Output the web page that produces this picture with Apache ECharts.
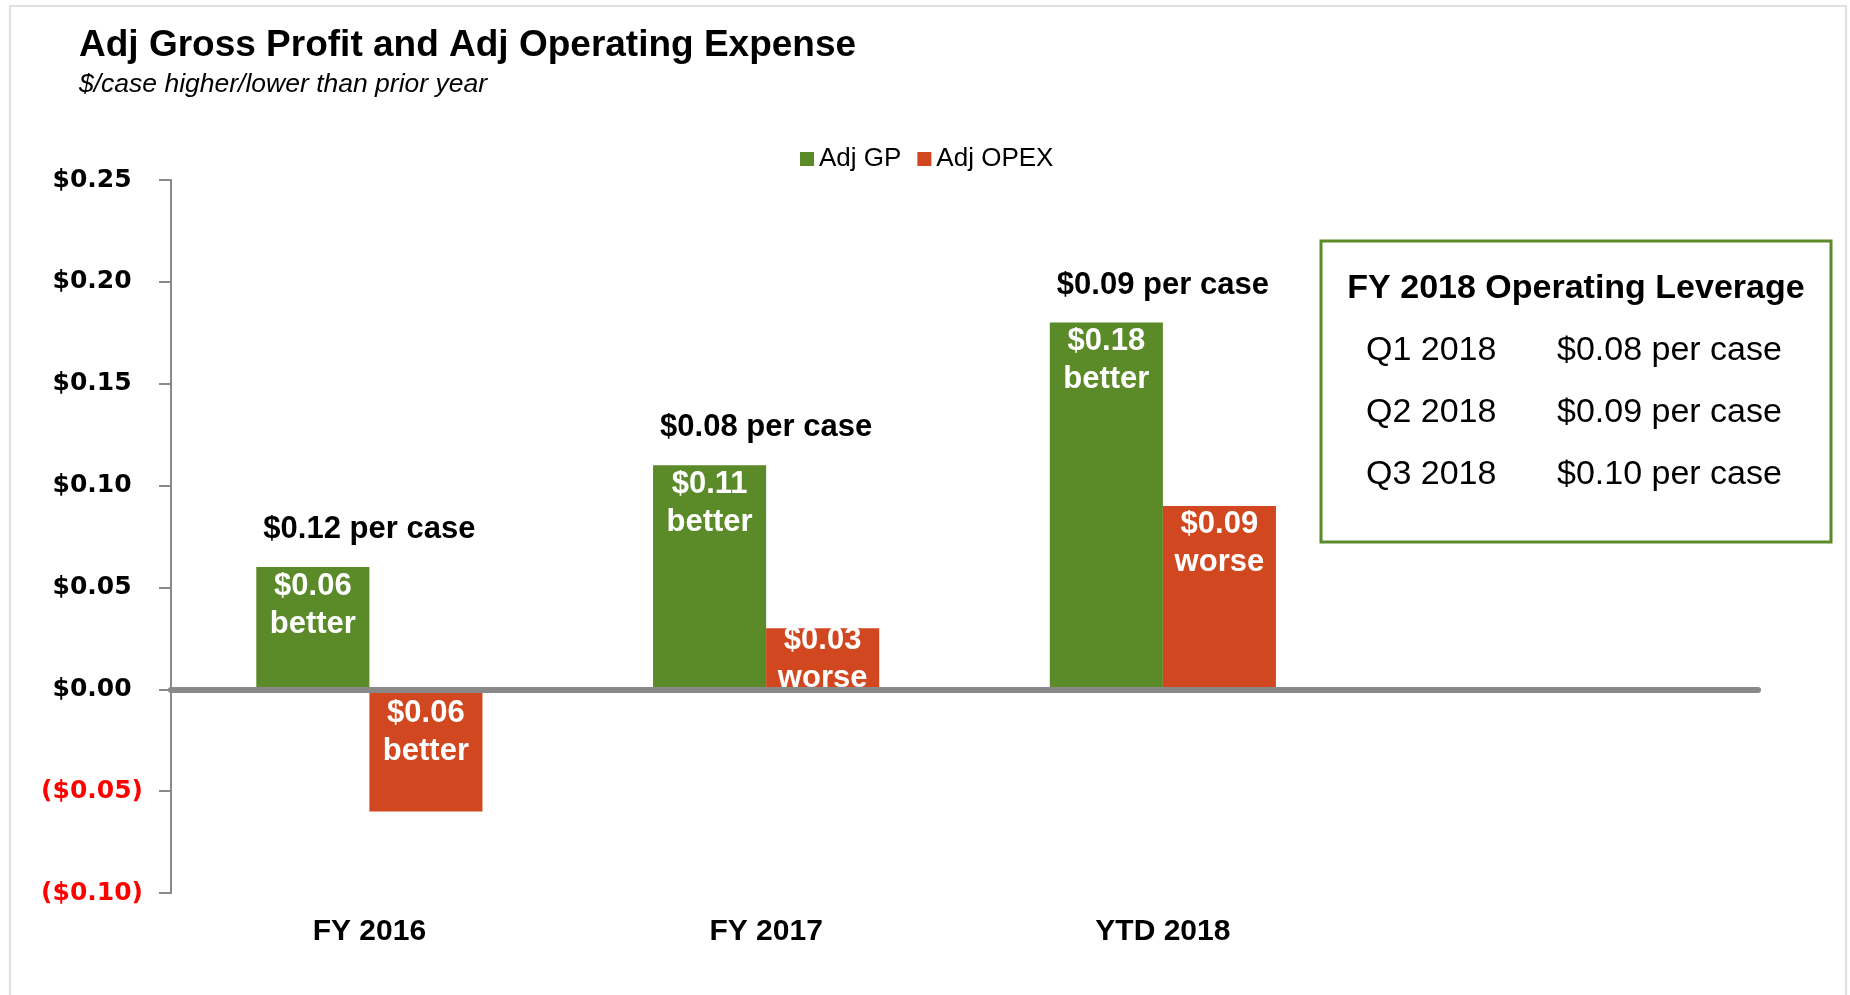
<!DOCTYPE html>
<html>
<head>
<meta charset="utf-8">
<script src="https://cdn.jsdelivr.net/npm/echarts@6/dist/echarts.min.js"></script>
<style>
	html, body { margin: 0; padding: 0; background: #fff; }
	#main { width: 1850px; height: 995px; }
</style>
</head>
<body>
<div id="main"></div>
<script>
// 数据
var categories = ['FY 2016', 'FY 2017', 'YTD 2018', ''];
var gpValues = [0.06, 0.11, 0.18];
var opexValues = [-0.06, 0.03, 0.09];
var gpWords = ['better', 'better', 'better'];
var opexWords = ['better', 'worse', 'worse'];
var perCaseValues = [0.12, 0.08, 0.09];
var leverageQuarters = ['Q1 2018', 'Q2 2018', 'Q3 2018'];
var leverageValues = [0.08, 0.09, 0.10];

var green = '#5B8A29';
var red = '#D14820';
var gray = '#898989';

function money(v) {
	var c = Math.round(v * 100);
	var s = '$' + (Math.abs(c) / 100).toFixed(2);
	return c < 0 ? '(' + s + ')' : s;
}

// 每组上方的标签放在较高柱子的顶端
var perCaseData = [];
for (var i = 0; i < perCaseValues.length; i++) {
	perCaseData.push(Math.max(gpValues[i], opexValues[i]));
}

// OPEX 柱: 太矮的柱子标签往上挪一点, 负值的标签离零线远一点
var opexData = [];
for (var k = 0; k < opexValues.length; k++) {
	var item = { value : opexValues[k] };
	if (opexValues[k] < 0) {
		item.label = { distance : 5 };
	} else if (opexValues[k] < 0.05) {
		item.label = { offset : [0, -7] };
	}
	opexData.push(item);
}

// 右侧的方框
var boxX = 1321, boxY = 241, boxW = 510, boxH = 301;
var graphics = [{
	type : 'rect',
	shape : { x : 10, y : 6, width : 1836, height : 1010 },
	style : { fill : 'none', stroke : '#d6d6d6', lineWidth : 1.5 },
	silent : true
}, {
	type : 'rect',
	shape : { x : boxX, y : boxY, width : boxW, height : boxH },
	style : { fill : '#fff', stroke : green, lineWidth : 3 },
	z : 20
}, {
	type : 'text',
	x : boxX + boxW / 2,
	y : 289,
	z : 21,
	style : {
		text : 'FY 2018 Operating Leverage',
		font : 'bold 34px "Liberation Sans", Arial, sans-serif',
		fill : '#000',
		align : 'center',
		verticalAlign : 'middle'
	}
}];
for (var j = 0; j < leverageQuarters.length; j++) {
	graphics.push({
		type : 'text',
		x : 1366,
		y : 351 + j * 62,
		z : 21,
		style : {
			text : leverageQuarters[j],
			font : '34px "Liberation Sans", Arial, sans-serif',
			fill : '#000',
			verticalAlign : 'middle'
		}
	});
	graphics.push({
		type : 'text',
		x : 1557,
		y : 351 + j * 62,
		z : 21,
		style : {
			text : money(leverageValues[j]) + ' per case',
			font : '34px "Liberation Sans", Arial, sans-serif',
			fill : '#000',
			verticalAlign : 'middle'
		}
	});
}

var yFont = { fontSize : 25, fontWeight : 'bold', fontFamily : '"DejaVu Sans", sans-serif' };

var myChart = echarts.init(document.getElementById('main'));
var option = {
	backgroundColor : '#fff',
	textStyle : { fontFamily : '"Liberation Sans", Arial, sans-serif' },
	title : {
		text : 'Adj Gross Profit and Adj Operating Expense',
		subtext : '$/case higher/lower than prior year',
		left : 79,
		top : 27,
		itemGap : 7,
		padding : 0,
		textStyle : { fontSize : 37, fontWeight : 'bold', color : '#000' },
		subtextStyle : { fontSize : 26.5, fontStyle : 'italic', color : '#000' }
	},
	legend : {
		data : ['Adj GP', 'Adj OPEX'],
		left : 795,
		top : 141,
		icon : 'rect',
		itemWidth : 14,
		itemHeight : 14,
		itemGap : 16,
		textStyle : { fontSize : 26, color : '#000' }
	},
	grid : { left : 171, right : 92, top : 180, bottom : 102 },
	xAxis : [{
		type : 'category',
		data : categories,
		z : 10,
		axisLine : { onZero : true, lineStyle : { color : gray, width : 6 } },
		axisTick : { show : false },
		axisLabel : { show : false }
	}, {
		type : 'category',
		data : categories,
		position : 'bottom',
		axisLine : { show : false, onZero : false },
		axisTick : { show : false },
		axisLabel : { fontSize : 30, fontWeight : 'bold', color : '#000', margin : 24 }
	}],
	yAxis : {
		type : 'value',
		min : -0.1,
		max : 0.25,
		interval : 0.05,
		splitLine : { show : false },
		axisLine : { show : true, lineStyle : { color : gray, width : 2 } },
		axisTick : { show : true, length : 12, lineStyle : { color : gray, width : 2 } },
		axisLabel : {
			margin : 28,
			fontSize : 25,
			fontWeight : 'bold',
			fontFamily : '"DejaVu Sans", sans-serif',
			// 正数后面补一个看不见的括号, 让数字对齐
			formatter : function(v) {
				var s = money(v);
				if (Math.round(v * 100) < 0) {
					return '{neg|' + s + '}';
				}
				return '{pos|' + s + '}{pad|)}';
			},
			rich : {
				pos : Object.assign({ color : '#000' }, yFont),
				neg : Object.assign({ color : '#ff0000' }, yFont),
				pad : Object.assign({ color : 'rgba(0,0,0,0)' }, yFont)
			}
		}
	},
	series : [{
		name : 'Adj GP',
		type : 'bar',
		data : gpValues,
		barGap : '0%',
		barCategoryGap : '43%',
		itemStyle : { color : green },
		label : {
			show : true,
			position : 'insideTop',
			distance : 0,
			fontSize : 31,
			fontWeight : 'bold',
			lineHeight : 38,
			color : '#fff',
			formatter : function(p) {
				return money(p.value) + '\n' + gpWords[p.dataIndex];
			}
		}
	}, {
		name : 'Adj OPEX',
		type : 'bar',
		data : opexData,
		itemStyle : { color : red },
		label : {
			show : true,
			position : 'insideTop',
			distance : 0,
			fontSize : 31,
			fontWeight : 'bold',
			lineHeight : 38,
			color : '#fff',
			formatter : function(p) {
				return '$' + Math.abs(p.value).toFixed(2) + '\n' + opexWords[p.dataIndex];
			}
		}
	}, {
		name : 'per case',
		type : 'scatter',
		data : perCaseData,
		symbolSize : 0,
		silent : true,
		itemStyle : { opacity : 1 },
		label : {
			show : true,
			position : 'top',
			distance : 22,
			fontSize : 31,
			fontWeight : 'bold',
			color : '#000',
			opacity : 1,
			formatter : function(p) {
				return money(perCaseValues[p.dataIndex]) + ' per case';
			}
		}
	}],
	graphic : graphics
};
myChart.setOption(option);
</script>
</body>
</html>
